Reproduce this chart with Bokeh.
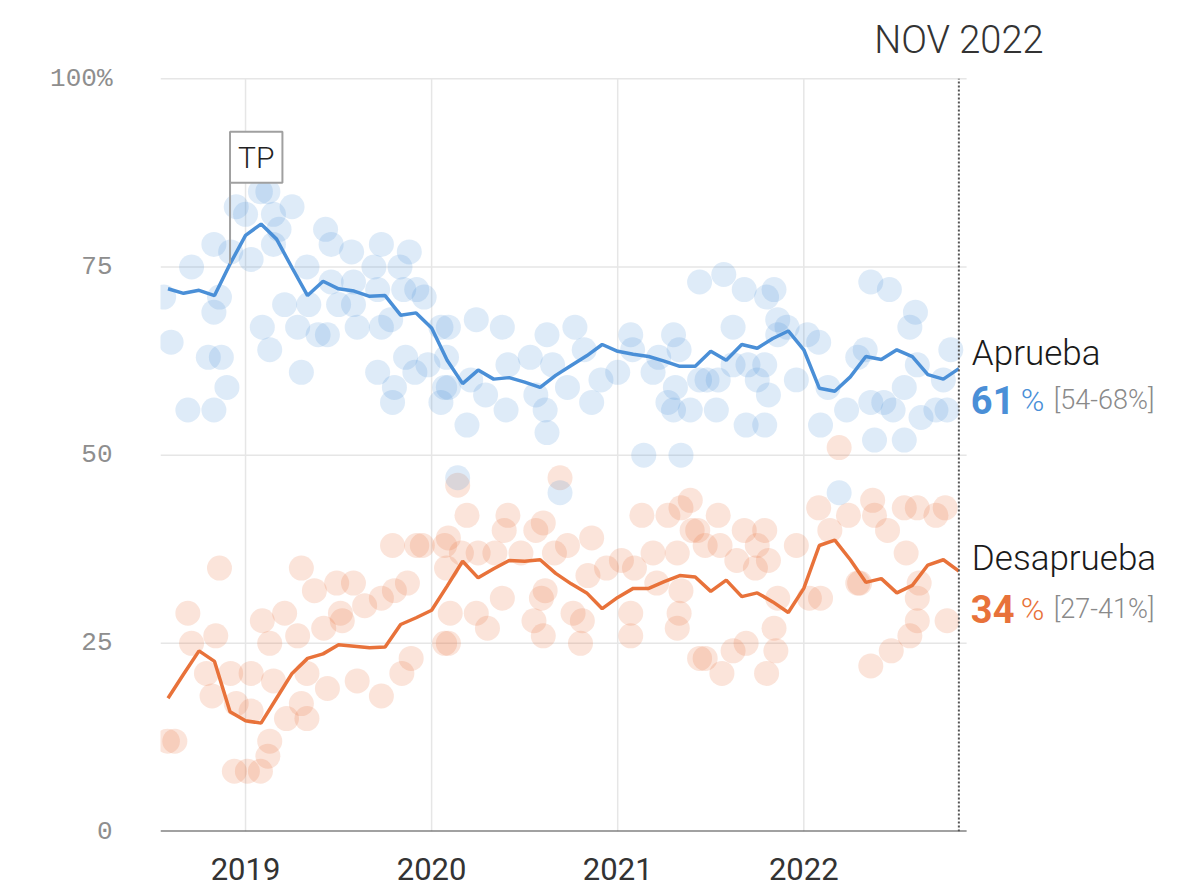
from bokeh.plotting import figure
from bokeh.models import Range1d, FixedTicker, Label
from bokeh.embed import file_html
from bokeh.resources import INLINE

# ---------------- data ----------------
months = []
for yy in range(2018, 2023):
    for mm in range(1, 13):
        if (yy, mm) >= (2018, 8) and (yy, mm) <= (2022, 11):
            months.append(f"{yy}-{mm:02d}")

approve_trend = [72.1, 71.5, 71.9, 71.2, 75.4, 79.2, 80.7, 78.7, 74.9, 71.2,
                 73.1, 72.1, 71.8, 71.1, 71.2, 68.6, 68.9, 66.9, 62.6, 59.5,
                 61.3, 60.1, 60.3, 59.7, 59.0, 60.6, 61.9, 63.2, 64.7, 63.8,
                 63.4, 63.1, 62.5, 61.8, 61.8, 63.8, 62.6, 64.7, 64.2, 65.5,
                 66.5, 64.0, 58.9, 58.5, 60.4, 63.1, 62.7, 64.0, 63.1, 60.7,
                 60.1, 61.5]
disapprove_trend = [17.7, 20.9, 24.0, 22.6, 15.9, 14.7, 14.4, 17.7, 21.0, 23.0,
                    23.6, 24.8, 24.6, 24.4, 24.5, 27.5, 28.4, 29.4, 32.6, 35.9,
                    33.7, 34.9, 36.0, 35.9, 36.1, 34.3, 32.9, 31.7, 29.6, 31.1,
                    32.3, 32.3, 33.2, 34.0, 33.8, 31.9, 33.4, 31.2, 31.7, 30.5,
                    29.1, 32.3, 38.0, 38.7, 36.1, 33.1, 33.6, 31.7, 32.7, 35.4,
                    36.1, 34.6]

# individual polls: (date as decimal year, value %)
approve_polls = [
    (2018.56, 71), (2018.60, 65), (2018.71, 75), (2018.69, 56), (2018.83, 56), (2018.83, 78),
    (2018.83, 69), (2018.86, 71), (2018.80, 63), (2018.87, 63), (2018.90, 59), (2018.92, 77),
    (2018.95, 83), (2019.00, 82), (2019.03, 76), (2019.09, 67), (2019.13, 64), (2019.08, 85),
    (2019.12, 85), (2019.15, 82), (2019.25, 83), (2019.18, 80), (2019.15, 78), (2019.30, 61),
    (2019.33, 75), (2019.43, 80), (2019.46, 78), (2019.57, 77), (2019.73, 78), (2019.88, 77),
    (2019.83, 75), (2019.69, 75), (2019.21, 70), (2019.28, 67), (2019.34, 70), (2019.39, 66),
    (2019.44, 66), (2019.46, 73), (2019.50, 70), (2019.58, 73), (2019.58, 70), (2019.60, 67),
    (2019.71, 72), (2019.73, 67), (2019.78, 68), (2019.71, 61), (2019.80, 59), (2019.79, 57),
    (2019.86, 63), (2019.91, 61), (2019.85, 72), (2019.92, 72), (2019.96, 71), (2020.05, 67),
    (2020.07, 59), (2020.05, 57), (2019.98, 62), (2020.09, 67), (2020.24, 68), (2020.38, 67),
    (2020.08, 63), (2020.09, 59), (2020.19, 54), (2020.21, 60), (2020.29, 58), (2020.40, 56),
    (2020.41, 62), (2020.53, 63), (2020.56, 58), (2020.61, 56), (2020.62, 53), (2020.62, 66),
    (2020.65, 62), (2020.73, 59), (2020.77, 67), (2020.82, 64), (2020.86, 57), (2020.91, 60),
    (2021.00, 61), (2021.07, 66), (2021.08, 64), (2021.19, 61), (2021.14, 50), (2021.22, 63),
    (2021.27, 57), (2021.30, 66), (2021.33, 64), (2021.31, 59), (2021.30, 56), (2021.34, 50),
    (2021.39, 56), (2021.44, 73), (2021.44, 60), (2020.14, 47), (2020.69, 45), (2021.57, 74),
    (2021.68, 72), (2021.84, 72), (2021.80, 71), (2021.62, 67), (2021.86, 68), (2021.86, 66),
    (2021.91, 67), (2022.08, 65), (2022.02, 66), (2022.36, 73), (2022.46, 72), (2022.60, 69),
    (2022.57, 67), (2022.79, 64), (2021.48, 60), (2021.54, 60), (2021.62, 62), (2021.70, 62),
    (2021.79, 62), (2021.75, 60), (2021.81, 58), (2021.96, 60), (2021.53, 56), (2021.69, 54),
    (2021.79, 54), (2022.09, 54), (2022.13, 59), (2022.23, 56), (2022.29, 63), (2022.33, 64),
    (2022.36, 57), (2022.43, 57), (2022.48, 56), (2022.38, 52), (2022.54, 52), (2022.54, 59),
    (2022.61, 62), (2022.63, 55), (2022.71, 56), (2022.77, 56), (2022.75, 60), (2022.19, 45),
]
disapprove_polls = [
    (2018.58, 12), (2018.62, 12), (2018.69, 29), (2018.71, 25), (2018.84, 26), (2018.86, 35),
    (2018.79, 21), (2018.82, 18), (2018.92, 21), (2018.95, 17), (2018.94, 8), (2019.01, 8),
    (2019.08, 8), (2019.12, 10), (2019.13, 12), (2019.03, 16), (2019.03, 21), (2019.09, 28),
    (2019.13, 25), (2019.15, 20), (2019.21, 29), (2019.22, 15), (2019.30, 35), (2019.30, 17),
    (2019.28, 26), (2019.37, 32), (2019.33, 21), (2019.33, 15), (2019.42, 27), (2019.44, 19),
    (2019.49, 33), (2019.51, 29), (2019.52, 28), (2019.58, 33), (2019.60, 20), (2019.64, 30),
    (2019.73, 31), (2019.73, 18), (2019.79, 38), (2019.80, 32), (2019.87, 33), (2019.92, 38),
    (2019.84, 21), (2019.89, 23), (2020.07, 38), (2020.07, 25), (2020.08, 35), (2020.14, 46),
    (2020.69, 47), (2019.95, 38), (2020.19, 42), (2020.41, 42), (2020.09, 39), (2020.39, 40),
    (2020.56, 40), (2020.60, 41), (2020.73, 38), (2020.86, 39), (2020.16, 37), (2020.25, 37),
    (2020.34, 37), (2020.48, 37), (2020.66, 37), (2020.84, 34), (2020.94, 35), (2021.02, 36),
    (2021.09, 35), (2021.19, 37), (2021.32, 37), (2021.13, 42), (2021.27, 42), (2021.34, 43),
    (2021.40, 40), (2020.38, 31), (2020.61, 32), (2020.59, 31), (2020.24, 29), (2020.30, 27),
    (2020.10, 29), (2020.09, 25), (2020.55, 28), (2020.60, 26), (2020.76, 29), (2020.81, 28),
    (2020.80, 25), (2021.07, 29), (2021.07, 26), (2021.21, 33), (2021.34, 32), (2021.33, 29),
    (2021.32, 27), (2021.44, 23), (2022.19, 51), (2021.39, 44), (2021.54, 42), (2021.43, 40),
    (2021.47, 38), (2021.55, 38), (2021.68, 40), (2021.79, 40), (2021.75, 38), (2021.81, 36),
    (2021.64, 36), (2021.74, 35), (2021.96, 38), (2021.86, 31), (2021.84, 27), (2021.85, 24),
    (2021.47, 23), (2021.62, 24), (2021.69, 25), (2021.56, 21), (2021.80, 21), (2022.03, 31),
    (2022.09, 31), (2022.08, 43), (2022.14, 40), (2022.24, 42), (2022.37, 44), (2022.38, 42),
    (2022.45, 40), (2022.54, 43), (2022.61, 43), (2022.71, 42), (2022.76, 43), (2022.55, 37),
    (2022.29, 33), (2022.30, 33), (2022.62, 33), (2022.61, 31), (2022.61, 28), (2022.57, 26),
    (2022.47, 24), (2022.36, 22), (2022.77, 28),
]

y_ticks = [0, 25, 50, 75, 100]
x_ticks = [2019, 2020, 2021, 2022]
x_tick_labels = ["2019", "2020", "2021", "2022"]

series_names = ["Aprueba", "Desaprueba"]
series_latest = ["61", "34"]
series_ranges = ["[54-68%]", "[27-41%]"]
current_label = "NOV 2022"
event_month = "2018-12"
event_label = "TP"

# ---------------- helpers ----------------
def month_to_year(m):
    y, mo = m.split("-")
    return int(y) + (int(mo) - 1) / 12.0

mx = [month_to_year(m) for m in months]
last_x = mx[-1]

BLUE = "#4a8fd7"
ORANGE = "#e8723a"
GRID = "#e6e6e6"
LIGHT = "Roboto Light"

x_start, x_end = 2018.543, 2024.105
plot_right = 2022.875

p = figure(width=1195, height=890,
           x_range=Range1d(x_start, x_end), y_range=Range1d(0, 109.34),
           output_backend="svg", toolbar_location=None,
           min_border_left=160, min_border_right=0, min_border_top=8, min_border_bottom=59)
p.outline_line_color = None
p.xgrid.visible = False
p.ygrid.visible = False
p.background_fill_color = "white"
p.border_fill_color = "white"

# axes
p.yaxis.ticker = FixedTicker(ticks=y_ticks)
p.yaxis.major_label_overrides = {t: ("100%" if t == 100 else str(t)) for t in y_ticks}
p.yaxis.axis_line_color = None
p.yaxis.major_tick_line_color = None
p.yaxis.minor_tick_line_color = None
p.yaxis.major_label_standoff = 42
p.yaxis.major_label_text_font = "Liberation Mono"
p.yaxis.major_label_text_font_size = "26px"
p.yaxis.major_label_text_color = "#8e8e8e"

p.xaxis.ticker = FixedTicker(ticks=x_ticks)
p.xaxis.major_label_overrides = dict(zip(x_ticks, x_tick_labels))
p.xaxis.axis_line_color = None
p.xaxis.major_tick_line_color = None
p.xaxis.minor_tick_line_color = None
p.xaxis.major_label_standoff = 20
p.xaxis.major_label_text_font = "Roboto"
p.xaxis.major_label_text_font_size = "31px"
p.xaxis.major_label_text_color = "#333333"

# manual grid
hy = [t for t in y_ticks if t > 0]
p.segment(x0=[x_start] * len(hy), y0=hy, x1=[plot_right] * len(hy), y1=hy,
          line_color=GRID, line_width=1.5)
p.segment(x0=x_ticks, y0=[0] * len(x_ticks), x1=x_ticks, y1=[100] * len(x_ticks),
          line_color=GRID, line_width=1.5)

# polls
ax, ay = zip(*approve_polls)
dx, dy = zip(*disapprove_polls)
p.scatter(list(dx), list(dy), size=25, fill_color=ORANGE, fill_alpha=0.19, line_color=None)
p.scatter(list(ax), list(ay), size=25, fill_color=BLUE, fill_alpha=0.18, line_color=None)

# trend lines
p.line(mx, approve_trend, line_color=BLUE, line_width=3.5)
p.line(mx, disapprove_trend, line_color=ORANGE, line_width=3.5)

# baseline and current-month marker
p.segment(x0=[x_start], y0=[0], x1=[plot_right], y1=[0], line_color="#444444", line_width=2)
p.segment(x0=[last_x], y0=[0], x1=[last_x], y1=[100], line_color="#555555",
          line_width=2, line_dash="2 2")

p.add_layout(Label(x=last_x, y=105.1, text=current_label, text_align="center",
                   text_baseline="middle", text_font=LIGHT,
                   text_font_size="38px", text_color="#333333"))

# event annotation
ev_x = month_to_year(event_month)
ev_val = approve_trend[months.index(event_month)]
ev_top = ev_val + 10.8
p.segment(x0=[ev_x], y0=[ev_val], x1=[ev_x], y1=[ev_top], line_color="#a0a0a0", line_width=2)
p.add_layout(Label(x=ev_x, y=ev_top, text=event_label, text_align="left",
                   text_baseline="bottom", text_font=LIGHT,
                   text_font_size="30px", text_color="#222222",
                   border_line_color="#a0a0a0", border_line_width=2,
                   background_fill_color="white", padding=8))

# end labels
ends = [approve_trend[-1], disapprove_trend[-1]]
colors = [BLUE, ORANGE]
name_offsets = [15, 12.5]
num_offsets = [-31.7, -37.5]
for name, latest, rng, endv, col, no, nuo in zip(series_names, series_latest, series_ranges,
                                              ends, colors, name_offsets, num_offsets):
    p.add_layout(Label(x=last_x, y=endv, x_offset=13, y_offset=no, text=name,
                       text_baseline="alphabetic", text_font=LIGHT,
                       text_font_size="35px", text_color="#1a1a1a"))
    p.add_layout(Label(x=last_x, y=endv, x_offset=12, y_offset=nuo, text=latest,
                       text_baseline="alphabetic", text_font="Roboto",
                       text_font_style="bold", text_font_size="38px", text_color=col))
    p.add_layout(Label(x=last_x, y=endv, x_offset=62, y_offset=nuo, text="%",
                       text_baseline="alphabetic", text_font=LIGHT,
                       text_font_size="32px", text_color=col))
    p.add_layout(Label(x=last_x, y=endv, x_offset=95, y_offset=nuo, text=rng,
                       text_baseline="alphabetic", text_font=LIGHT,
                       text_font_size="27px", text_color="#8a8a8a"))

open("out.html", "w").write(file_html(p, INLINE))
